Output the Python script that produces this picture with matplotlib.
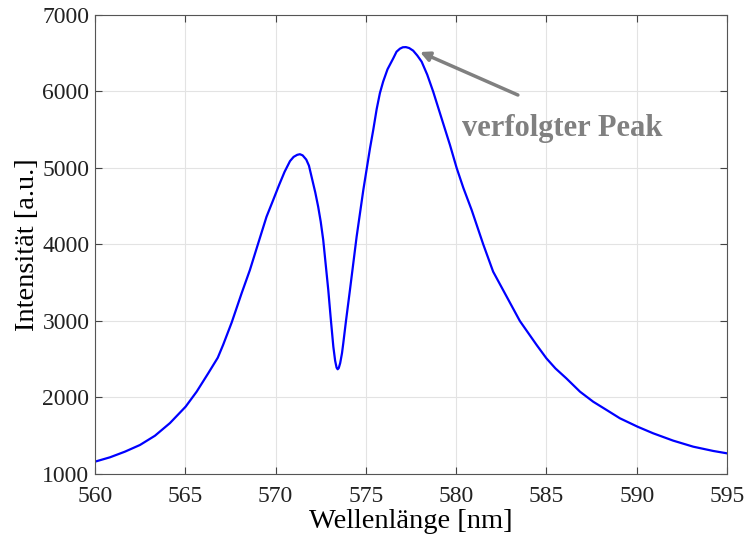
import matplotlib.pyplot as plt

# Spektrum
wellenlaenge = [560.0, 560.83, 561.66, 562.49, 563.32, 564.15, 565.02, 565.63, 566.27, 566.8,
                567.1, 567.57, 568.12, 568.58, 569.04, 569.5, 569.87, 570.2, 570.5, 570.8,
                571.0, 571.2, 571.35, 571.5, 571.7, 571.85, 572.0, 572.2, 572.36, 572.5,
                572.64, 572.92, 573.05, 573.2, 573.3, 573.38, 573.44, 573.5, 573.58, 573.68,
                573.75, 573.9, 574.12, 574.49, 574.86, 575.23, 575.41, 575.6, 575.78, 575.96,
                576.2, 576.52, 576.7, 576.89, 577.05, 577.22, 577.4, 577.62, 577.85, 578.09,
                578.4, 578.73, 579.1, 579.66, 580.03, 580.4, 580.86, 581.5, 582.05, 582.8,
                583.53, 584.46, 585.0, 585.5, 586.1, 586.86, 587.59, 588.33, 589.07, 590.05,
                590.91, 592.02, 593.13, 594.24, 595.0]
intensitaet = [1161, 1218, 1292, 1379, 1500, 1665, 1880, 2076, 2316, 2520,
               2690, 2980, 3362, 3667, 4016, 4363, 4582, 4780, 4950, 5090,
               5145, 5172, 5180, 5165, 5110, 5030, 4880, 4680, 4494, 4300,
               4059, 3405, 3050, 2664, 2480, 2390, 2369, 2385, 2450, 2580,
               2708, 3000, 3405, 4102, 4712, 5257, 5497, 5770, 5980, 6130,
               6290, 6434, 6520, 6560, 6578, 6580, 6568, 6534, 6470, 6390,
               6220, 5998, 5720, 5300, 5000, 4740, 4451, 4003, 3645, 3318,
               3000, 2686, 2512, 2380, 2251, 2076, 1945, 1837, 1728, 1618,
               1532, 1436, 1357, 1301, 1270]

xticks = [560, 565, 570, 575, 580, 585, 590, 595]
yticks = [1000, 2000, 3000, 4000, 5000, 6000, 7000]

plt.rcParams['font.family'] = ['Liberation Serif', 'DejaVu Serif']

fig = plt.figure(figsize=(7.45, 5.43), dpi=100)
ax = fig.add_axes([0.1275, 0.1271, 0.8483, 0.8453])

ax.plot(wellenlaenge, intensitaet, color='#0000ff', linewidth=1.6)

ax.set_xlim(560, 595)
ax.set_ylim(1000, 7000)
ax.set_xticks(xticks)
ax.set_yticks(yticks)
ax.grid(True, color='#e3e3e3', linewidth=0.8)
ax.set_axisbelow(True)
ax.tick_params(direction='in', top=True, right=True, length=5, width=0.8,
               color='#444444', labelsize=17, labelcolor='#222222')
ax.tick_params(axis='x', pad=9)
ax.tick_params(axis='y', pad=4)
for s in ax.spines.values():
    s.set_color('#555555')
    s.set_linewidth(0.8)

ax.set_xlabel('Wellenlänge [nm]', fontsize=20.5, labelpad=1)
ax.set_ylabel('Intensität [a.u.]', fontsize=20.5, labelpad=2)

ax.annotate('', xy=(578.0, 6516), xytext=(583.42, 5954),
            arrowprops=dict(arrowstyle='-|>', color='#808080', lw=2.5,
                            mutation_scale=14, shrinkA=0, shrinkB=0))
ax.text(580.3, 5510, 'verfolgter Peak', fontsize=22, fontweight='bold',
        color='#808080', va='center', ha='left')

fig.savefig('out.png', dpi=100)
